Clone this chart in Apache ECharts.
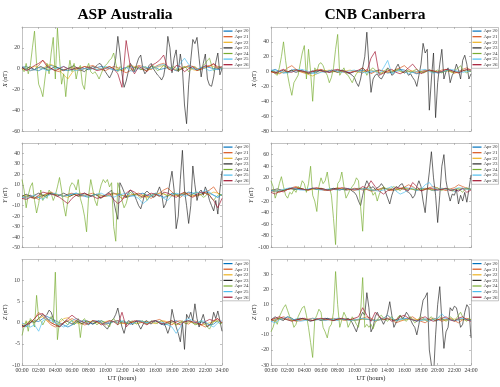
<!DOCTYPE html>
<html><head><meta charset="utf-8">
<script src="https://cdn.jsdelivr.net/npm/echarts@6/dist/echarts.min.js"></script>
<style>html,body{margin:0;padding:0;background:#fff}#c{width:500px;height:387px}</style>
</head><body><div id="c"></div>
<script>
// ---------- categories / labels ----------
const seriesNames = ['Apr 20','Apr 21','Apr 22','Apr 23','Apr 24','Apr 25','Apr 26'];
const stationTitles = ['ASP Australia','CNB Canberra'];
const componentNames = ['X','Y','Z'];
const hourTicks = [0,2,4,6,8,10,12,14,16,18,20,22,24];

// ---------- ASP X (nT) ----------
const aspX_20 = [1,2,0,-1,-2,0,1,3,2,0,-1,-2,-1,0,1,0,-1,0,1,2,1,0,-1,-2,0,1,2,1,0,-1,0,2,1,-1,0,1,0,-2,-1,1,2,0,-1,1,2,1,0,-1,0];
const aspX_21 = [2,0,-2,-1,3,8,4,0,-2,-3,-1,0,1,-1,-2,0,2,3,1,-1,-2,0,2,1,-2,-4,-2,1,3,2,0,-1,2,4,5,2,0,-2,-1,1,3,2,0,-1,1,3,4,2,1];
const aspX_22 = [-1,0,1,2,1,0,3,4,2,-2,-6,-10,-4,0,1,2,1,0,-1,0,1,2,0,-1,-2,1,3,2,0,-1,-2,0,1,2,3,1,0,-1,0,2,1,-1,-2,0,1,3,2,0,1];
const aspX_23 = [1,0,-1,1,2,0,-1,0,1,2,1,0,-1,-2,0,1,2,1,0,-1,-2,-1,0,1,2,3,1,0,-1,-2,-3,-1,0,1,2,1,
  3,5,4,0,-3,-6,-9,-5, 0,10,31,15,-5,-18,-12,-3, 5,2,-3,4,10,13,0,-5, -2,3,5,0,-3,-6,-8,-11,
  -7,5,31,20,-4,10,18,-3, 14,0,-35,-53,-15,8,28,24, 30,10,-8,5,14,-10,-16,-17, -8,6,15,-6,0];
const aspX_24 = [0,-3,5,-5,3,20,36,5,-15,-20,-27,-10, 5,-5,15,30,-10,39,10,-15,-5,-27,-5,8,
  -3,5,-10,0,3,-15,-20,0,5,-3,-5,-3, -6,-10,-5,0,3,5,8,10,15,5,-3,2,
  0,-2,1,3,0,-2,-1,2,1,-1,0,2, 1,-1,2,3,0,-2,-1,1,3,2,0,-1,
  1,2,0,-2,-1,1,2,0,-3,-1,1,2, 0,-2,1,3,5,8,10,3,-2,0,1,2,0];
const aspX_25 = [2,0,-2,-1,1,0,-2,-1,0,1,2,0,-1,-2,-1,0,1,0,-1,0,2,1,-1,-2,0,1,-2,-3,0,2,1,0,1,3,4,2,0,-2,5,10,4,0,-1,1,0,-2,-1,0,1];
const aspX_26 = [1,-2,0,3,5,8,2,0,-2,0,2,0,-1,1,0,2,1,0,-2,-1,0,2,0,-5,-18,27,2,-5,2,0,-3,3,5,8,13,0,-2,3,2,-3,0,2,-2,0,3,2,5,0,2];

// ---------- ASP Y (nT) ----------
const aspY_20 = [-2,-1,0,-3,-2,0,1,2,1,0,-1,0,1,2,0,-1,-2,0,1,0,-1,0,2,1,0,-2,-1,0,1,2,0,-1,1,0,-2,-1,2,1,0,1,3,2,0,1,3,2,0,-2,1];
const aspY_21 = [-3,-2,0,-2,-4,-1,2,3,1,0,-1,1,2,0,-1,0,1,2,0,-2,-1,1,2,0,-3,-2,0,1,2,0,-1,-3,0,2,5,7,3,0,-2,1,2,0,-1,1,3,5,8,2,0];
const aspY_22 = [-1,0,-2,-3,-1,0,1,2,1,0,-1,-2,0,1,2,0,-1,0,1,0,-1,0,1,2,0,-1,0,1,0,-1,-2,0,1,2,1,0,-1,0,1,2,0,-1,0,1,2,1,3,2,0];
const aspY_23 = [-1,0,1,0,-1,-2,0,1,2,1,0,-1, 0,1,2,1,0,-1,0,1,2,1,0,-1, 0,1,0,-1,0,1,2,1,0,-1,0,1,
  0,-2,-3,-1,0,2,3,5,-5,-15,-23,12, 8,3,-2,2,5,3,0,-5,-10,-13,-6,2,
  4,2,0,-2,-1,3,8,2,-12,-8,0,12, 23,5,-32,-20,15,43,5,-10,-27,-10,28,10,
  -5,3,5,0,8,3,-5,-10,-15,-5,-18,5,23];
const aspY_24 = [15,5,-12,0,8,12,-5,-17,-8,5,-5,0, -3,5,2,-5,0,8,17,5,-10,-20,-5,8,
  12,10,5,15,-3,-10,-20,-35,0,15,5,-5, -10,2,10,15,12,15,8,12,-30,-44,12,5,
  -5,-12,-8,0,3,1,0,2,-1,-3,0,1, -5,-2,0,1,2,0,-1,1,2,0,-1,1,
  0,2,1,-1,0,1,3,2,0,-1,1,2, 3,1,0,-2,-1,2,0,-3,-5,-2,0,1,0];
const aspY_25 = [-2,-3,-1,0,-2,-4,-1,1,2,0,-1,0,1,2,1,0,-1,0,1,2,0,-1,-2,0,1,2,0,-1,-3,-8,-5,0,2,0,-3,-5,0,2,1,-1,0,2,3,2,5,3,0,-2,1];
const aspY_26 = [-3,-4,-2,-3,0,3,2,1,0,-2,-5,-8,-3,0,1,2,0,-1,-3,-2,0,2,-4,-8,-5,2,5,3,0,-2,0,2,1,-1,3,2,0,-2,1,3,0,-2,1,3,2,0,-5,-12,-3];

// ---------- ASP Z (nT) ----------
const aspZ_20 = [-0.5,-1,0,0.5,0.3,1,1.5,1,0.5,0,-0.5,-1,-0.5,0,0.3,0.5,0,-0.3,0.2,0.5,0,-0.2,0.3,0.5,0.2,0,-0.3,0.2,0.5,0.3,0,0.2,0.5,0,-0.5,-0.3,0.2,0.5,0,0.3,0.5,0,-0.3,0.2,0,-0.5,-0.3,0.5,0];
const aspZ_21 = [-1,-0.5,0,1,2.5,1.5,0.5,-0.5,-1,-0.5,0,0.5,1,0.5,0,-0.5,-0.3,0.5,0.3,0,-0.5,0.2,0.3,0.5,0,-0.3,0,0.3,0.5,0.2,-0.3,0.3,0.5,0.8,0.3,0,-0.5,0.3,0.5,0,-0.3,0.5,0.3,-0.5,-1,-0.5,0.5,1,0];
const aspZ_22 = [-0.5,0,0.5,0.3,1,1.5,0.5,0,-0.5,0,1,1.2,0.5,0,-0.3,0,0.3,0.2,0,-0.2,0.3,0.5,0.2,0,-0.2,0,0.2,0,-0.2,0.2,0.3,0,-0.2,0.3,0.5,0.2,0,-0.5,0,0.3,0.2,0,-0.3,-0.5,-0.3,0,0.3,0.5,0];
const aspZ_23 = [-0.5,-1,-0.5,0,0.5,0.3,0,0.5,1,1.5,2,1.5, 2,3,2.5,1,0,-0.5,-1,-0.5,0,0.5,0.3,0,
  -0.3,0,0.5,0.3,0,-0.3,0.2,0.5,0.3,0,-0.3,0, 0.3,0.5,0,-0.5,-1,-1.5,-0.5,0.5,1,2,3.5,1,
  -1,-2.5,-0.5,0.5,0.3,-0.5,0,0.5,-0.5,-1.5,-0.5,0.3, 0.5,0,-0.3,0.2,0.5,0.3,0,-0.5,0,-1,-2.5,-1,
  3.2,1,-1,-2.5,-4.5,0,-6.3,2,1,2.5,0.5,4.5, 1,-1,0.5,2,0,-1,-0.5,0,2.5,1,2.8,0.5,-2];
const aspZ_24 = [-3,-1,0.5,-2,1,0.5,-1,6.5,1,0.5,-0.5,0.5, 1,0.5,1.5,0,12,-4,0.5,1,0.5,0,-0.5,0.3,
  0.5,-0.5,0,1,-3.5,0.5,1,0,-0.5,0.3,0.5,0, -0.5,0,0.5,0.3,0,-0.5,-1,0.5,1,0.3,-0.5,0,
  0.3,0.5,0,-0.3,0.2,0.5,0,-0.3,0,0.3,0.5,0, -0.3,0,0.5,0.3,0,-0.2,0.3,0.5,0,-0.3,0,0.3,
  0.5,0,-0.5,-0.3,0.2,0.5,0,-0.3,0.3,0.5,0,-0.5, -0.3,0.2,0.5,0,-0.5,-1,-1.5,-0.5,0.3,0.5,0.2,-0.3,0];
const aspZ_25 = [0,-0.5,-1,-0.5,-2,0.5,1,0.5,0,-0.5,-1,-0.5,0.5,1,0.5,0,-0.5,0.3,0.5,0,-0.3,0.2,0.3,0,0.5,0.2,-0.3,0,0.5,0.3,0,0.3,0.5,0.2,0,-0.5,-1,-2.5,-1,0.5,1,0.5,0,0.5,0.3,-0.5,-1,0,0.5];
const aspZ_26 = [-1,-0.5,0,1,2,2.2,1,0,-0.5,-1,0,1,1.8,1,0.5,0,-0.3,0.5,0.3,-0.5,0,0.5,0.3,-0.5,2.5,-1,0,0.5,0.3,0,-0.5,0.3,0.5,0,-0.3,0.2,0.5,0,-0.5,0.3,0.5,0.2,0,-0.5,0.3,0.8,0.5,1,0];

// ---------- CNB X (nT) ----------
const cnbX_20 = [1,3,0,-2,-1,2,3,1,-1,-3,-2,0,2,1,-1,0,2,1,-1,-2,0,1,2,0,-1,1,2,0,-2,-1,1,3,2,0,-1,-3,-1,1,2,0,-2,-1,1,2,0,-1,1,2,0];
const cnbX_21 = [0,-2,-3,0,5,8,3,0,-2,-3,0,2,3,1,-1,0,2,0,-2,-1,1,0,-2,3,-3,0,2,1,-1,0,3,5,8,3,0,-2,0,2,1,-1,0,2,3,1,-2,0,3,5,2];
const cnbX_22 = [-1,0,-2,-1,0,1,2,0,-1,-4,-6,-3,0,1,2,0,-1,0,1,2,0,-1,0,1,2,0,-1,-2,0,1,2,0,-1,0,1,0,-1,0,2,1,-1,0,1,0,-2,-1,1,2,0];
const cnbX_23 = [0,1,-1,-2,0,1,2,0,-1,1,2,0, -1,0,1,2,0,-1,-2,0,1,0,-1,1, 2,0,-1,0,1,2,1,0,-1,0,2,1,
  0,-2,-3,-5,-8,-15,-20,-10,5,20,53,10, -28,-10,-5,-3,-8,-10,-5,0,5,2,-5,-3,
  5,10,3,0,-2,0,-5,-3,-8,-12,-20,-5, 10,38,25,30,-52,-10,25,-62,-15,10,30,-10,
  0,5,-15,-5,0,10,2,-10,15,22,10,-10,-3];
const cnbX_24 = [2,0,-3,-5,5,20,40,15,-5,-20,-32,-15, -10,-5,10,25,35,-10,30,0,-40,5,0,10,
  12,8,0,-5,-15,-8,5,30,50,-5,0,5, -3,-5,-10,-15,-8,-3,0,3,5,2,-5,0,
  3,5,2,0,-2,-3,0,2,3,1,-1,0, 2,3,1,-1,0,2,1,-1,0,2,3,1,
  0,-2,-1,1,2,0,-1,1,2,0,-2,0, 1,2,0,-1,1,3,5,8,3,0,-2,1,0];
const cnbX_25 = [2,1,0,-1,-2,0,1,3,2,0,-2,-3,-1,0,1,2,0,-1,0,1,2,0,-1,-2,1,0,-3,5,15,-3,0,2,0,-3,-1,0,2,3,0,-2,-1,0,1,3,2,0,-1,0,1];
const cnbX_26 = [0,-2,1,3,0,-1,2,1,0,-1,0,2,1,0,-1,2,3,1,0,-2,0,2,5,0,18,27,-5,-2,1,3,-1,-3,0,5,10,3,-3,0,2,1,-1,0,3,2,0,-2,1,3,2];

// ---------- CNB Y (nT) ----------
const cnbY_20 = [-3,-2,-4,-1,0,2,1,0,-1,0,2,1,0,-1,0,1,2,0,-1,0,1,2,1,0,-2,-1,0,2,1,0,-1,1,3,2,0,-1,1,2,0,-2,-1,1,2,0,-3,-1,1,2,0];
const cnbY_21 = [-2,-4,-5,-2,0,3,5,2,0,-1,1,2,0,-2,0,1,3,1,-1,0,2,1,-1,0,-3,-2,1,3,0,-2,0,2,4,8,5,0,-2,1,3,5,2,0,-2,1,3,8,5,2,0];
const cnbY_22 = [-1,-2,-3,-1,0,1,3,2,0,-1,0,1,2,0,-1,0,1,2,1,0,-1,0,2,1,0,-1,0,1,2,0,-1,1,2,1,0,-1,0,1,0,-1,0,2,1,0,-1,1,2,0,1];
const cnbY_23 = [-2,-1,0,1,0,-1,-2,0,1,2,1,0, 0,1,2,1,0,-1,0,1,2,1,0,1, 2,1,0,-1,0,1,2,1,0,-1,0,1,
  0,2,0,-3,-5,-10,-20,-28,-10,5,15,8, 2,5,0,3,5,10,5,-5,-15,-25,-10,0,
  5,3,8,10,2,-3,-5,-8,-15,-10,5,15, 5,-20,-40,0,30,65,20,-10,-57,-10,40,60,
  15,-5,-20,-8,-10,0,-25,-10,-20,-5,-22,0,25];
const cnbY_24 = [15,5,-15,-5,10,22,5,-10,-15,-5,-8,0, -5,5,2,15,10,-5,10,40,-10,-20,-38,5,
  20,10,15,30,5,-10,-50,-95,10,15,30,5, -15,-8,0,5,10,20,15,-30,-72,0,3,5,
  0,-10,-5,-20,-8,0,5,2,0,-2,3,5, 2,0,-2,1,3,0,-1,2,1,-1,0,2,
  1,-1,0,2,1,-1,0,2,3,0,-2,1, 0,2,-1,-3,0,2,1,-2,-5,0,3,1,0];
const cnbY_25 = [-1,-3,-2,0,2,3,1,-1,0,1,2,0,-1,0,1,0,-1,0,2,1,0,-1,1,2,0,-2,-3,-1,2,5,-3,-8,-5,0,3,-2,0,8,12,3,0,2,1,-1,0,3,2,0,1];
const cnbY_26 = [-5,-8,-3,-4,0,2,3,1,0,-1,2,3,1,0,-2,0,1,3,2,0,-1,0,5,2,15,5,-3,-8,-2,0,3,2,0,-2,12,5,-3,0,2,1,-1,0,2,-2,0,-3,2,-5,-1];

// ---------- CNB Z (nT) ----------
const cnbZ_20 = [-1,0,1,0.5,0,-0.5,0.5,1,0.3,0,-0.5,0,0.5,1,0.5,0,-0.3,0.5,0.3,0,-0.5,0,0.5,0.3,0,-0.5,0,0.3,0.5,0,-0.3,0.5,1,0.5,0,-0.5,0,0.5,0.3,0,-0.3,0.2,0.5,0,-0.5,0,0.5,0.3,0];
const cnbZ_21 = [0,-1,1,2,1,0,-1,-0.5,0,0.5,1,0.5,0,-0.5,0.5,1,0.3,0,-0.5,0.3,0.5,0,1,2,1,-1,0,1,3,0,-2,-1,0,1,2,0,-1,-2,0,1,0.5,-1,0,1,-0.5,-2,0,1,0];
const cnbZ_22 = [0,0.5,1,0.5,0,-0.5,0,0.5,0.3,0,-0.3,0.2,0.5,0.3,0,-0.2,0.3,0.5,0.2,0,-0.3,0,0.3,0.5,0,-0.3,0,0.2,0.5,0.3,0,-0.3,0,0.3,0.5,0.2,0,-0.3,0.2,0.5,0.3,0,-0.2,0.3,0.5,0.2,0,-0.3,0];
const cnbZ_23 = [0,1,2,1,0.5,0,-0.5,1,2,1.5,1,0, -0.5,0,0.5,1,0.5,0,-0.5,-1,-0.5,0,0.5,0, -0.5,0,0.5,1,0.5,0,-0.5,0,0.5,1,0.5,0,
  0.5,1,0,-2,-5,-8,-3,2,5,3,18,8, -8,-5,2,5,2,0,-3,0,5,12,3,-5,
  -2,0,3,1,2,5,3,0,-3,-5,-10,-3, 5,13,15,18,-20,-30,-38,-10,10,22,0,-19,
  -8,-5,8,6,9,8,2,-5,-3,5,10,8,-12];
const cnbZ_24 = [-8,-5,0,-3,2,5,8,10,6,2,0,-5, -3,2,5,8,9,3,-5,-15,-25,0,3,7,
  5,-5,-8,-12,-5,-3,5,32,10,-5,0,5, 2,-5,-2,2,0,-3,-5,5,28,-5,-3,-5,
  -3,-6,-2,0,2,3,1,0,-1,1,2,0, -1,2,3,1,0,-1,1,2,0,-2,-1,1,
  2,1,0,-1,1,2,0,-1,1,2,1,0, -1,0,2,1,-1,1,3,5,2,0,-1,1,0];
const cnbZ_25 = [-1,-2,0,1,2,0.5,0,-1,-0.5,0,1,0.5,0,-0.5,0,0.5,1,0.5,0,-0.5,0,0.5,1,0.5,0,-0.5,0,1,3,1,-0.5,0,0.5,1,0,-1,-0.5,0,-1,0.5,1,4,1,0,-0.5,0.5,1,0,-0.5];
const cnbZ_26 = [0,1,2,1,0,-1,0,0.5,1,0,-0.5,0.5,1,0.5,0,-0.5,0.5,1,0.3,0,1,2,8,3,-1,5,2,0,1,-1,0,2,3,1,0,-1,1,2,0,-1,0,1,2,0,-1,1,2,0,-1];

// ---------- axis ranges (nT) ----------
const yMin = {aspX:-60, aspY:-50, aspZ:-10, cnbX:-80, cnbY:-100, cnbZ:-30};
const yMax = {aspX:40,  aspY:50,  aspZ:15,  cnbX:60,  cnbY:80,   cnbZ:40};
const yStep= {aspX:20,  aspY:10,  aspZ:5,   cnbX:20,  cnbY:20,   cnbZ:10};

const panels = [
  {key:'aspX', comp:'X', col:0, row:0, data:[aspX_20,aspX_21,aspX_22,aspX_23,aspX_24,aspX_25,aspX_26]},
  {key:'cnbX', comp:'X', col:1, row:0, data:[cnbX_20,cnbX_21,cnbX_22,cnbX_23,cnbX_24,cnbX_25,cnbX_26]},
  {key:'aspY', comp:'Y', col:0, row:1, data:[aspY_20,aspY_21,aspY_22,aspY_23,aspY_24,aspY_25,aspY_26]},
  {key:'cnbY', comp:'Y', col:1, row:1, data:[cnbY_20,cnbY_21,cnbY_22,cnbY_23,cnbY_24,cnbY_25,cnbY_26]},
  {key:'aspZ', comp:'Z', col:0, row:2, data:[aspZ_20,aspZ_21,aspZ_22,aspZ_23,aspZ_24,aspZ_25,aspZ_26]},
  {key:'cnbZ', comp:'Z', col:1, row:2, data:[cnbZ_20,cnbZ_21,cnbZ_22,cnbZ_23,cnbZ_24,cnbZ_25,cnbZ_26]}
];

const colors = ['#0072BD','#D95319','#EDB120','#262626','#77AC30','#4DBEEE','#A2142F'];
const SERIF = "'Liberation Serif','DejaVu Serif',serif";
const colLeft = [22, 271];
const rowTop = [27, 143, 259.5];
const rowH = [104, 104.5, 105.5];
const plotW = 200;
const axisCol = '#b4b4b4';
const labCol = '#3a3a3a';

const grid=[], xAxis=[], yAxis=[], series=[], legend=[];
panels.forEach((p, pi) => {
  const left = colLeft[p.col], top = rowTop[p.row], h = rowH[p.row];
  grid.push({left:left, top:top, width:plotW, height:h, show:false});
  const bottomRow = p.row === 2;
  const xBase = {type:'value', gridIndex:pi, min:0, max:24, interval:2,
    axisLine:{show:true, onZero:false, lineStyle:{color:axisCol, width:0.8}},
    axisTick:{show:true, inside:true, length:2, lineStyle:{color:'#999', width:0.6}},
    splitLine:{show:false}};
  xAxis.push(Object.assign({}, xBase, {position:'bottom',
    axisLabel:{show:bottomRow, fontSize:5.8, fontFamily:SERIF, color:labCol, margin:2,
      formatter: v => (v<10?'0':'')+v+':00'},
    name: bottomRow ? 'UT (hours)' : '', nameLocation:'middle', nameGap:10,
    nameTextStyle:{fontSize:6.5, fontFamily:SERIF, color:'#222'}}));
  xAxis.push(Object.assign({}, xBase, {position:'top', axisLabel:{show:false}}));
  const yBase = {type:'value', gridIndex:pi, min:yMin[p.key], max:yMax[p.key], interval:yStep[p.key],
    axisLine:{show:true, onZero:false, lineStyle:{color:axisCol, width:0.8}},
    axisTick:{show:true, inside:true, length:2, lineStyle:{color:'#999', width:0.6}},
    splitLine:{show:false}};
  yAxis.push(Object.assign({}, yBase, {position:'left',
    axisLabel:{show:true, showMaxLabel:false, fontSize:5.8, fontFamily:SERIF, color:labCol, margin:2},
    name:'{i|'+p.comp+'} (nT)', nameLocation:'middle', nameGap:14, nameRotate:90,
    nameTextStyle:{fontSize:6, fontFamily:SERIF, color:'#222',
      rich:{i:{fontSize:6, fontFamily:SERIF, fontStyle:'italic', color:'#222'}}}}));
  yAxis.push(Object.assign({}, yBase, {position:'right', axisLabel:{show:false}}));
  p.data.forEach((arr, k) => {
    const n = arr.length - 1;
    series.push({type:'line', name:seriesNames[k], xAxisIndex:2*pi, yAxisIndex:2*pi,
      data: arr.map((v,i) => [i*24/n, v]), symbol:'none', smooth:false,
      lineStyle:{width:0.75, color:colors[k], opacity:0.9}, itemStyle:{color:colors[k]},
      silent:true, z:2+k});
  });
  legend.push({data:seriesNames, orient:'vertical', left:left+plotW+0.5, top:top+0.5,
    icon:'rect', itemWidth:9, itemHeight:1.2, itemGap:0.4, padding:[1,1,1,1],
    borderColor:'#888', borderWidth:0.5, backgroundColor:'#fff',
    textStyle:{fontSize:5, lineHeight:5.2, fontFamily:SERIF, color:'#333', padding:[0,0,0,-3]},
    selectedMode:false});
});

const chart = echarts.init(document.getElementById('c'), null, {renderer:'canvas'});
chart.setOption({
  animation:false,
  backgroundColor:'#fff',
  color:colors,
  title: stationTitles.map((t,i) => ({text:t, left:[120,370][i], top:2, textAlign:'center',
    textStyle:{fontSize:15.5, fontWeight:'bold', fontFamily:SERIF, color:'#000'}})),
  grid, xAxis, yAxis, legend, series
});
</script></body></html>
